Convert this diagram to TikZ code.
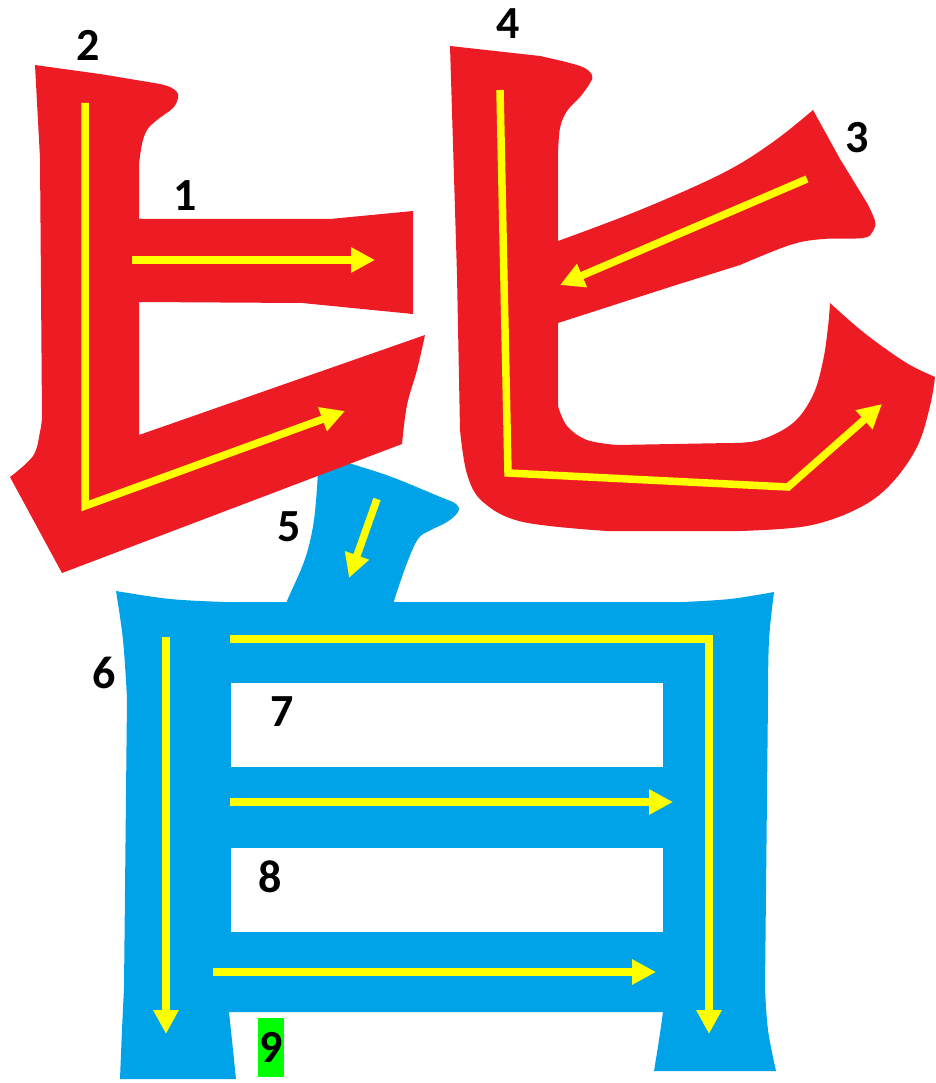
\documentclass[tikz,border=0pt]{standalone}
\usepackage{fontspec}
\setmainfont{Carlito}
\usetikzlibrary{arrows.meta}
\definecolor{pred}{HTML}{ED1C24}
\definecolor{pblue}{HTML}{00A2E8}
\definecolor{pyellow}{HTML}{FFFF00}
\definecolor{pgreen}{HTML}{00FF00}
\tikzset{
  redpart/.style={fill=pred,draw=none},
  bluepart/.style={fill=pblue,draw=none},
  hole/.style={fill=white,draw=none},
  order/.style={draw=pyellow,line width=7.5pt,-{Triangle[length=24pt,width=24pt]}},
  num/.style={font=\fontsize{46}{46}\selectfont\bfseries,inner sep=0pt,text=black},
}
\begin{document}
\begin{tikzpicture}[x=1pt,y=-1pt]
\useasboundingbox (0,0) rectangle (935,1083);
% ---- blue lower part
\path[bluepart] (318,472) -- (345,462)
  -- plot[smooth,tension=0.6] coordinates {(345,462)(389,476)(438,496)(456,504)(458,512)(447,522)(429,531)(418,539)(407,563)(394,601)(392,612)}
  -- (284,612)
  -- plot[smooth,tension=0.6] coordinates {(284,612)(287,601)(305,559)(314,520)(318,472)} -- cycle;
\path[bluepart]
  plot[smooth,tension=0.6] coordinates {(116,591)(170,599)(225,602)}
  -- (683,602)
  -- plot[smooth,tension=0.6] coordinates {(683,602)(730,599)(774,592)}
  -- plot[smooth,tension=0.6] coordinates {(774,592)(769,640)(768,698)}
  -- (765,988)
  -- plot[smooth,tension=0.6] coordinates {(765,988)(768,1030)(776,1071)}
  -- (654,1071)
  -- plot[smooth,tension=0.6] coordinates {(654,1071)(659,1040)(663,1012)}
  -- (229,1012)
  -- plot[smooth,tension=0.6] coordinates {(229,1012)(233,1050)(236,1079)}
  -- (120,1079)
  -- plot[smooth,tension=0.6] coordinates {(120,1079)(122,1030)(124,988)}
  -- (127,698)
  -- plot[smooth,tension=0.6] coordinates {(127,698)(123,640)(116,591)} -- cycle;
\path[hole] (231,683) rectangle (663,767);
\path[hole] (231,848) rectangle (663,932);
% ---- red left part
\path[redpart] (35,65) -- (100,74) -- (160,84)
  -- plot[smooth,tension=0.6] coordinates {(160,84)(170,87)(177,92)(178,98)(173,108)(157,120)(147,130)(142,144)(139,164)}
  -- (139,219) -- (330,219) -- (413,211) -- (413,314) -- (302,303) -- (139,302) -- (139,435) -- (425,335)
  -- plot[smooth,tension=0.6] coordinates {(425,335)(417,370)(407,405)(402,444)}
  -- (62,573) -- (10,477)
  -- plot[smooth,tension=0.6] coordinates {(10,477)(33,456)(40,432)(42,418)}
  -- (40,158) -- cycle;
% ---- red right part
\path[redpart] (450,46) -- (540,56)
  -- plot[smooth,tension=0.6] coordinates {(540,56)(580,66)(592,75)(590,83)(580,97)(567,111)(560,128)(558,155)}
  -- (558,241)
  -- plot[smooth,tension=0.6] coordinates {(558,241)(640,210)(723,173)(773,142)(813,110)}
  -- (840,159) -- (867,203)
  -- plot[smooth,tension=0.6] coordinates {(867,203)(875,221)(873,231)(863,238)(823,239)(790,245)(740,265)}
  -- (673,286) -- (558,323) -- (558,406)
  -- plot[smooth,tension=0.6] coordinates {(558,406)(567,426)(587,440)(617,445)}
  -- (730,443)
  -- plot[smooth,tension=0.6] coordinates {(730,443)(760,440)(793,423)(813,395)(823,361)(828,327)(830,303)}
  -- plot[smooth,tension=0.6] coordinates {(830,303)(857,327)(883,347)(910,365)(935,377)}
  -- plot[smooth,tension=0.6] coordinates {(935,377)(930,406)(917,447)(890,485)(857,509)(807,526)(740,531)}
  -- (607,531)
  -- plot[smooth,tension=0.6] coordinates {(607,531)(523,522)(483,502)(467,474)(460,430)}
  -- (457,275) -- cycle;
% ---- stroke order arrows
\draw[order] (132,260) -- (375,260);
\draw[order] (85,103) -- (85,506) -- (345,411);
\draw[order] (807,179) -- (560,285);
\draw[order] (500,90) -- (508,473) -- (788,487) -- (882,404);
\draw[order] (377,499) -- (349,578);
\draw[order] (166,637) -- (166,1034);
\draw[order] (230,639) -- (709,639) -- (709,1034);
\draw[order] (230,802) -- (673,802);
\draw[order] (213,972) -- (656,972);
% ---- numbers
\node[num] (n1) at (185,196) {1};
\node[num] (n2) at (88,45) {2};
\node[num] (n3) at (857,138) {3};
\node[num] (n4) at (508,24) {4};
\node[num] (n5) at (289,527) {5};
\node[num] (n6) at (104,673) {6};
\node[num] (n7) at (282,712) {7};
\node[num] (n8) at (270,877) {8};
\node[num,fill=pgreen,minimum width=26pt,minimum height=59pt] (n9) at (271,1047) {9};
\end{tikzpicture}
\end{document}
